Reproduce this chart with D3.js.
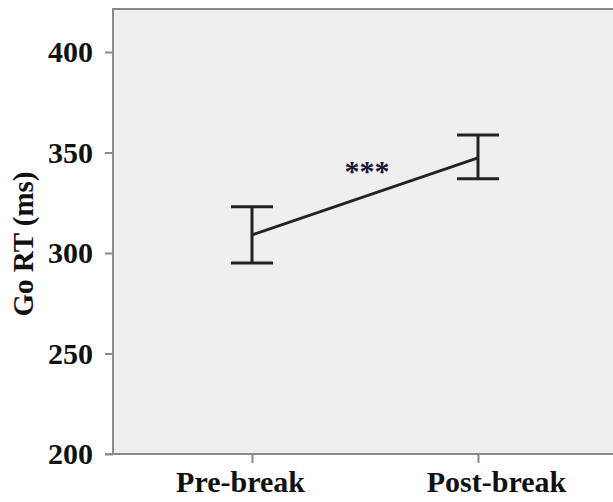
<!DOCTYPE html>
<html><head><meta charset="utf-8">
<script src="https://cdn.jsdelivr.net/npm/d3@7/dist/d3.min.js"></script>
<style>body{margin:0;background:#fff}svg{display:block}</style>
</head><body>
<script>
const categories = ["Pre-break", "Post-break"];
const means = [309, 347.3];
const upper = [323, 358.7];
const lower = [295, 337];
const yTicks = [200, 250, 300, 350, 400];
const sigLabel = "***";
const yTitle = "Go RT (ms)";

(function () {
const W = 613, H = 502;
const svg = d3.select("body").append("svg").attr("width", W).attr("height", H);

const y = d3.scaleLinear().domain([200, 400]).range([454, 52]);
const x = d3.scalePoint().domain(categories).range([252, 478]);
const plotLeft = 113, plotTop = 9;
const serif = "'Liberation Serif', 'Times New Roman', serif";

// plot background
svg.append("rect").attr("x", plotLeft).attr("y", plotTop).attr("width", W - plotLeft + 5).attr("height", y(200) - plotTop)
  .attr("fill", "#efefef");

// frame (left + top)
svg.append("path").attr("d", `M${plotLeft},${y(200)}V${plotTop}H${W + 5}`)
  .attr("fill", "none").attr("stroke", "#8a8a8a").attr("stroke-width", 2);

// y axis
const yAxis = d3.axisLeft(y).tickValues(yTicks).tickSize(8).tickPadding(12).tickFormat(d3.format("d"));
const gy = svg.append("g").attr("transform", `translate(${plotLeft},0)`).call(yAxis);
gy.select(".domain").remove();
gy.selectAll(".tick line").attr("stroke", "#8a8a8a").attr("stroke-width", 2);
gy.selectAll(".tick text").attr("font-family", serif)
  .attr("font-weight", "bold").attr("font-size", 30).attr("fill", "#111").attr("dy", "0.32em")
  .attr("x", -20);

// x axis
const xAxis = d3.axisBottom(x).tickSize(9).tickPadding(0);
const gx = svg.append("g").attr("transform", `translate(0,${y(200)})`).call(xAxis);
gx.select(".domain").remove();
gx.selectAll(".tick line").attr("stroke", "#8a8a8a").attr("stroke-width", 2);
const xOff = {"Pre-break": -12, "Post-break": 18};
gx.selectAll(".tick text").attr("font-family", serif)
  .attr("font-weight", "bold").attr("font-size", 30).attr("fill", "#111")
  .attr("y", 38).attr("dy", 0).attr("x", d => xOff[d]);
// bottom axis line
svg.append("line").attr("x1", plotLeft - 8).attr("x2", W + 5).attr("y1", y(200)).attr("y2", y(200))
  .attr("stroke", "#8a8a8a").attr("stroke-width", 2);

// line between means
const pts = categories.map((c, i) => [x(c), y(means[i])]);
svg.append("path").attr("d", d3.line()(pts)).attr("fill", "none").attr("stroke", "#222").attr("stroke-width", 3);

// error bars
const cap = 21;
categories.forEach((c, i) => {
  const g = svg.append("g").attr("stroke", "#222").attr("stroke-width", 3);
  g.append("line").attr("x1", x(c)).attr("x2", x(c)).attr("y1", y(upper[i])).attr("y2", y(lower[i]));
  g.append("line").attr("x1", x(c) - cap).attr("x2", x(c) + cap).attr("y1", y(upper[i])).attr("y2", y(upper[i]));
  g.append("line").attr("x1", x(c) - cap).attr("x2", x(c) + cap).attr("y1", y(lower[i])).attr("y2", y(lower[i]));
});

// significance
svg.append("text").attr("x", (x(categories[0]) + x(categories[1])) / 2 + 2).attr("y", 181)
  .attr("text-anchor", "middle").attr("font-family", serif)
  .attr("font-weight", "bold").attr("font-size", 30).attr("fill", "#1a1a3a").text(sigLabel);

// y title
svg.append("text").attr("transform", `translate(33,244) rotate(-90)`)
  .attr("text-anchor", "middle").attr("font-family", serif)
  .attr("font-weight", "bold").attr("font-size", 29).attr("fill", "#111").text(yTitle);
})();
</script>
</body></html>
